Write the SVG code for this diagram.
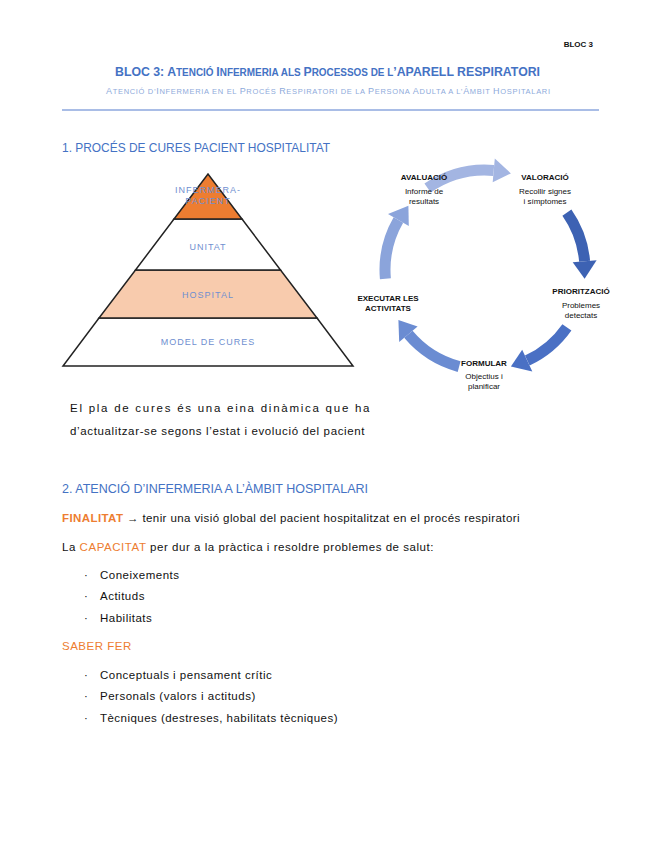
<svg xmlns="http://www.w3.org/2000/svg" width="655" height="848" viewBox="0 0 655 848">
<style>
text{font-family:"Liberation Sans",Arial,sans-serif}
.b{font-size:11.5px;fill:#111;letter-spacing:0.5px}
.h{font-size:13px;fill:#4472c4}
.p{font-size:9px;fill:#6f8fd0;text-anchor:middle;letter-spacing:1px}
.c{font-size:8px;fill:#111;text-anchor:middle}
.cb{font-size:8px;fill:#111;text-anchor:middle;font-weight:bold}
.o{fill:#ed7d31}
.arc{fill:none;stroke-width:11}
</style>
<rect width="655" height="848" fill="#fff"/>
<g id="header">
<text x="593" y="47" font-size="8" font-weight="bold" text-anchor="end" fill="#111">BLOC 3</text>
<text x="115" y="76" font-size="13" font-weight="bold" fill="#4472c4" textLength="425" lengthAdjust="spacingAndGlyphs">BLOC 3: A<tspan font-size="10.5">TENCIÓ </tspan>I<tspan font-size="10.5">NFERMERIA ALS </tspan>P<tspan font-size="10.5">ROCESSOS DE L</tspan>’APARELL RESPIRATORI</text>
<text x="106" y="94" font-size="9" fill="#8eaadb" textLength="444" lengthAdjust="spacing">A<tspan font-size="7.5">TENCIÓ D’</tspan>I<tspan font-size="7.5">NFERMERIA EN EL </tspan>P<tspan font-size="7.5">ROCÉS </tspan>R<tspan font-size="7.5">ESPIRATORI DE LA </tspan>P<tspan font-size="7.5">ERSONA </tspan>A<tspan font-size="7.5">DULTA A L’</tspan>À<tspan font-size="7.5">MBIT </tspan>H<tspan font-size="7.5">OSPITALARI</tspan></text>
<line x1="62" y1="110" x2="599" y2="110" stroke="#a9bde6" stroke-width="2"/>
</g>
<text class="h" x="62" y="152" textLength="268" lengthAdjust="spacingAndGlyphs">1. PROCÉS DE CURES PACIENT HOSPITALITAT</text>
<g id="pyramid" stroke="#222" stroke-width="1.5">
<polygon points="63,366 353,366 317,318 99,318" fill="#fff"/>
<polygon points="99,318 317,318 280.5,270 135.5,270" fill="#f8cbad"/>
<polygon points="135.5,270 280.5,270 242,219 174,219" fill="#fff"/>
<polygon points="174,219 242,219 208,174" fill="#ed7d31"/>
</g>
<g id="pyr-labels">
<text class="p" x="208" y="193">INFERMERA-</text>
<text class="p" x="208" y="204">PACIENT</text>
<text class="p" x="208" y="250">UNITAT</text>
<text class="p" x="208" y="298">HOSPITAL</text>
<text class="p" x="208" y="345">MODEL DE CURES</text>
</g>
<g id="connectors">
<path class="arc" stroke="#a3b5e2" d="M427.6,188.1 A100,100 0 0 1 493.7,170.4"/>
<polygon fill="#a3b5e2" points="492.7,182.3 494.8,158.4 510.9,173.4"/>
<path class="arc" stroke="#3d62b3" d="M566.9,212.6 A100,100 0 0 1 584.6,261.3"/>
<polygon fill="#3d62b3" points="572.7,262.3 596.6,260.2 584.6,278.7"/>
<path class="arc" stroke="#4a70c4" d="M566.9,327.4 A100,100 0 0 1 527.3,360.6"/>
<polygon fill="#4a70c4" points="522.2,349.8 532.3,371.5 510.9,366.6"/>
<path class="arc" stroke="#6b8cd2" d="M459.1,366.6 A100,100 0 0 1 408.4,334.3"/>
<polygon fill="#6b8cd2" points="417.6,326.6 399.2,342 398.4,320"/>
<path class="arc" stroke="#8ba4db" d="M385.4,278.7 A100,100 0 0 1 398.4,220"/>
<polygon fill="#8ba4db" points="408.8,226 388,214 408.4,205.7"/>
</g>
<g id="valoracio"><text class="cb" x="545" y="180">VALORACIÓ</text><text class="c" x="545" y="194">Recollir signes</text><text class="c" x="545" y="204">i símptomes</text></g>
<g id="prioritzacio"><text class="cb" x="581" y="294">PRIORITZACIÓ</text><text class="c" x="581" y="308">Problemes</text><text class="c" x="581" y="318">detectats</text></g>
<g id="formular"><text class="cb" x="484" y="366">FORMULAR</text><text class="c" x="484" y="379">Objectius i</text><text class="c" x="484" y="389">planificar</text></g>
<g id="executar"><text class="cb" x="388" y="301">EXECUTAR LES</text><text class="cb" x="388" y="311">ACTIVITATS</text></g>
<g id="avaluacio"><text class="cb" x="424" y="180">AVALUACIÓ</text><text class="c" x="424" y="194">Informe de</text><text class="c" x="424" y="204">resultats</text></g>
<g id="body">
<text class="b" x="70" y="412" textLength="300" lengthAdjust="spacing">El pla de cures és una eina dinàmica que ha</text>
<text class="b" x="70" y="435" textLength="295" lengthAdjust="spacing">d’actualitzar-se segons l’estat i evolució del pacient</text>
<text class="h" x="62" y="493" textLength="306" lengthAdjust="spacingAndGlyphs">2. ATENCIÓ D’INFERMERIA A L’ÀMBIT HOSPITALARI</text>
<text class="b" x="62" y="522" textLength="458" lengthAdjust="spacing"><tspan class="o" font-weight="bold">FINALITAT</tspan> → tenir una visió global del pacient hospitalitzat en el procés respiratori</text>
<text class="b" x="62" y="551" textLength="372" lengthAdjust="spacing">La <tspan class="o">CAPACITAT</tspan> per dur a la pràctica i resoldre problemes de salut:</text>
<text class="b" x="84" y="579">·</text><text class="b" x="100" y="579">Coneixements</text>
<text class="b" x="84" y="600">·</text><text class="b" x="100" y="600">Actituds</text>
<text class="b" x="84" y="622">·</text><text class="b" x="100" y="622">Habilitats</text>
<text class="b o" x="62" y="650">SABER FER</text>
<text class="b" x="84" y="679">·</text><text class="b" x="100" y="679">Conceptuals i pensament crític</text>
<text class="b" x="84" y="700">·</text><text class="b" x="100" y="700">Personals (valors i actituds)</text>
<text class="b" x="84" y="722">·</text><text class="b" x="100" y="722" textLength="238" lengthAdjust="spacing">Tècniques (destreses, habilitats tècniques)</text>
</g>
</svg>
